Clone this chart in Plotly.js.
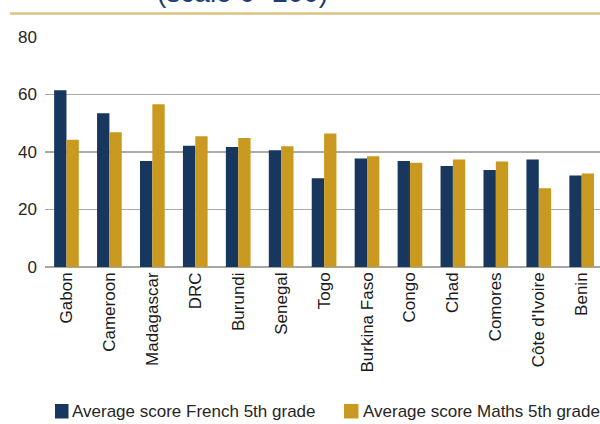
<!DOCTYPE html>
<html>
<head>
<meta charset="utf-8">
<script src="https://cdn.plot.ly/plotly-3.0.1.min.js"></script>
<style>html,body{margin:0;padding:0;background:#fff;}#chart{width:600px;height:424px;}</style>
</head>
<body>
<div id="chart"></div>
<script>
const countries = ["Gabon","Cameroon","Madagascar","DRC","Burundi","Senegal","Togo","Burkina Faso","Congo","Chad","Comores","Côte d'Ivoire","Benin"];
const frenchScores = [61.5, 53.5, 36.9, 42.2, 41.7, 40.6, 30.9, 37.7, 36.9, 35.1, 33.7, 37.4, 31.8];
const mathsScores  = [44.3, 46.9, 56.6, 45.5, 44.9, 42.0, 46.4, 38.5, 36.3, 37.4, 36.7, 27.4, 32.5];
const seriesNames = ["Average score French 5th grade", "Average score Maths 5th grade"];
const yTicks = [0, 20, 40, 60, 80];
const titleTail = "(scale 0- 200)";

const navy = "#17375E", gold = "#C99A1F";
const FONT = "'Liberation Sans', Arial, sans-serif";

const traces = [
  {type:"bar", x:countries, y:frenchScores, name:seriesNames[0], marker:{color:navy}},
  {type:"bar", x:countries, y:mathsScores, name:seriesNames[1], marker:{color:gold}}
];

// pixel helpers for layout decoration (plot area: left 45, width 555, top 37, height 230)
const px = v => (v - 45) / 555;
const py = v => (267 - v) / 230;

const layout = {
  width:600, height:424,
  margin:{l:45, r:0, t:37, b:157, pad:0},
  paper_bgcolor:"#fff", plot_bgcolor:"#fff",
  font:{family:FONT, size:17, color:"#262626"},
  showlegend:false,
  barmode:"group", bargap:0.425, bargroupgap:0,
  xaxis:{type:"category", range:[-0.5, 12.426], tickangle:-90, showgrid:false, ticks:"", showline:false,
         tickfont:{family:FONT, size:17, color:"#1a1a1a"}, ticklabelstandoff:1, automargin:false, fixedrange:true},
  yaxis:{range:[0,80], tickvals:yTicks, ticktext:yTicks.map(String), showgrid:true, gridcolor:"#ABABAB", gridwidth:1.3,
         zeroline:true, zerolinecolor:"#A6A6A6", zerolinewidth:1.5, showline:false, ticks:"",
         tickfont:{family:FONT, size:17, color:"#262626"}, ticklabelstandoff:7, automargin:false, fixedrange:true},
  shapes:[
    {type:"line", xref:"paper", yref:"paper", x0:px(10), x1:1, y0:py(13.5), y1:py(13.5), line:{color:"#DFC27F", width:2.5}},
    {type:"rect", xref:"paper", yref:"paper", x0:px(55), x1:px(68.5), y0:py(418.5), y1:py(404), fillcolor:navy, line:{width:0}},
    {type:"rect", xref:"paper", yref:"paper", x0:px(344), x1:px(358.5), y0:py(418.5), y1:py(404), fillcolor:gold, line:{width:0}}
  ],
  annotations:[
    {xref:"paper", yref:"paper", x:px(70), y:py(411), xanchor:"left", yanchor:"middle", showarrow:false,
     text:seriesNames[0], font:{family:FONT, size:17, color:"#262626"}},
    {xref:"paper", yref:"paper", x:px(360.5), y:py(411), xanchor:"left", yanchor:"middle", showarrow:false,
     text:seriesNames[1], font:{family:FONT, size:17, color:"#262626"}},
    {xref:"paper", yref:"paper", x:px(155), y:py(10), xanchor:"left", yanchor:"bottom", showarrow:false,
     text:titleTail, font:{family:FONT, size:28, color:"#1F3D6E"}}
  ]
};

Plotly.newPlot("chart", traces, layout, {displayModeBar:false, staticPlot:true});
</script>
</body>
</html>
